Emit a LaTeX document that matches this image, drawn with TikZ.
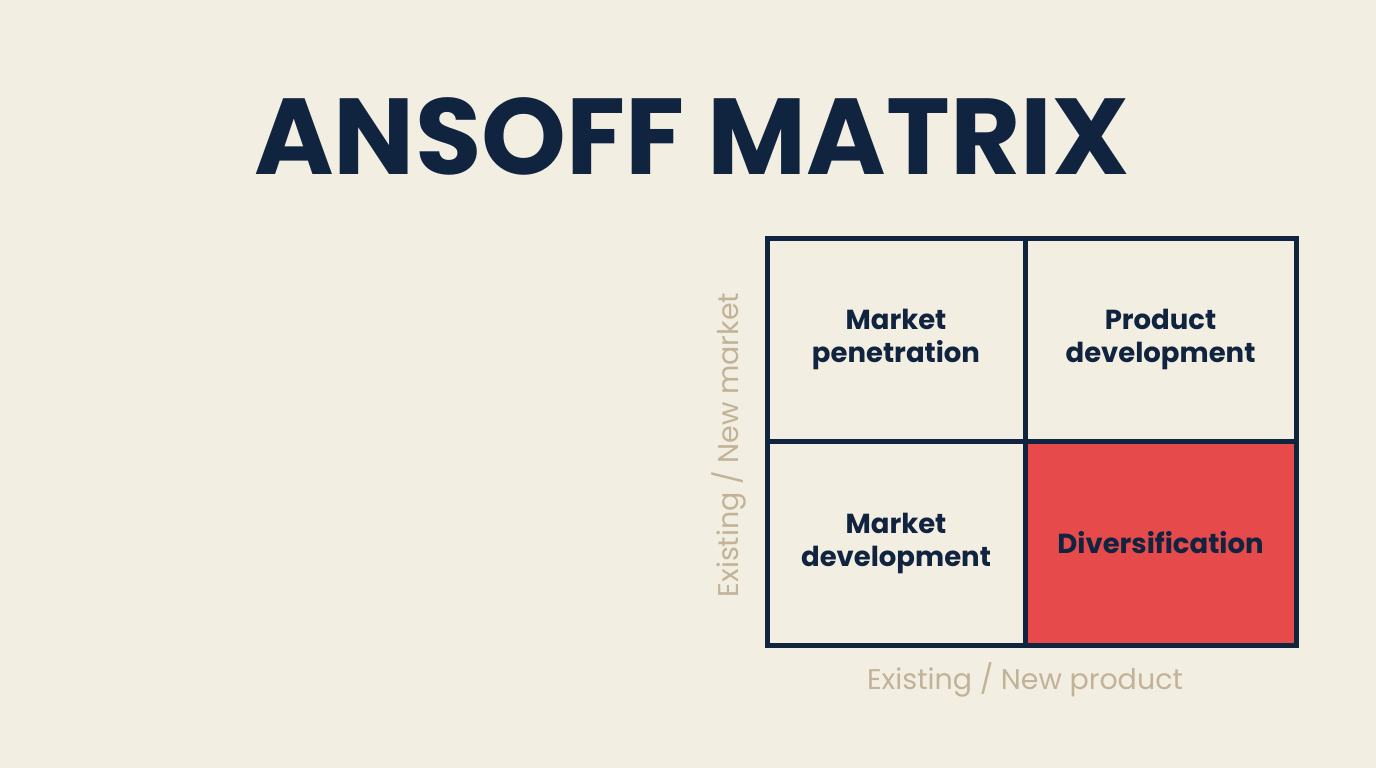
\documentclass[tikz,border=0pt]{standalone}
\usepackage{fontspec}
\setmainfont{Poppins}
\definecolor{navy}{HTML}{10233F}
\definecolor{paper}{HTML}{F2EEE1}
\definecolor{redcell}{HTML}{E64A4A}
\definecolor{tan}{HTML}{C2B398}
\begin{document}
\begin{tikzpicture}[x=1pt,y=-1pt,
  cell/.style={draw=navy, line width=5pt, inner sep=0pt, text=navy, align=center, font=\fontsize{27.5}{33}\selectfont\bfseries},
  leftcol/.style={minimum width=258pt}, rightcol/.style={minimum width=271pt},
  toprow/.style={minimum height=203pt}, botrow/.style={minimum height=204pt},
  axislabel/.style={text=tan, font=\fontsize{28.5}{32}\selectfont}]
    \fill[paper] (0,0) rectangle (1376,768);
    \node[text=navy, font=\fontsize{108}{108}\selectfont\bfseries] (title) at (692,136) {ANSOFF MATRIX};

    % the four quadrants
    \node[cell, leftcol, toprow] (pen) at (896,339.5) {Market\\penetration};
    \node[cell, rightcol, toprow] (prod) at (1160.5,339.5) {Product\\development};
    \node[cell, leftcol, botrow] (mdev) at (896,543) {Market\\development};
    \node[cell, rightcol, botrow, fill=redcell] (div) at (1160.5,543) {Diversification};

    % axes
    \node[axislabel] (xlab) at (1025,680) {Existing / New product};
    \node[axislabel, rotate=90] (ylab) at (729,445) {Existing / New market};
\end{tikzpicture}
\end{document}
